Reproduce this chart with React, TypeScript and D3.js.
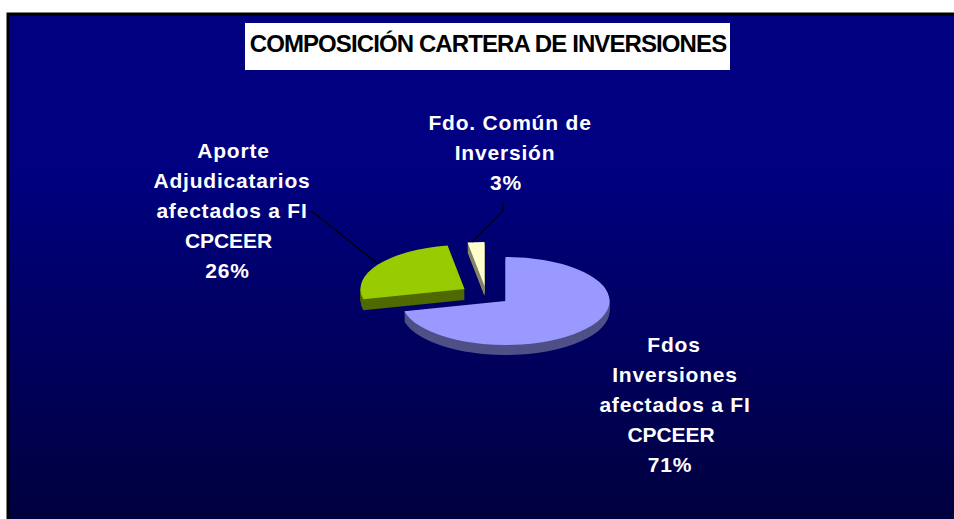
import React from "react";
import * as d3 from "d3";

const W = 954, H = 519;
const title = "COMPOSICIÓN CARTERA DE INVERSIONES";
const sliceNames = ["Fdos Inversiones", "Aporte Adjudicatarios", "Fdo. Común de Inversión"];
const sliceValues = [71.3, 26.1, 2.6];
const sliceColors = ["#9999ff", "#99cc00", "#ffffcc"];
const wallColors = ["#505088", "#4f6a00", "#84846a"];
const explodeX = [0, -41, -21];
const explodeY = [0, -12, -15];
const wallDepth = [10, 11, 10];
const labelLines = [
  ["Fdos", "Inversiones", "afectados a FI", "CPCEER", "71%"],
  ["Aporte", "Adjudicatarios", "afectados a FI", "CPCEER", "26%"],
  ["Fdo. Común de", "Inversión", "3%"],
];
const labelLineX = [
  [674, 675, 675, 671, 670],
  [233.5, 232, 232, 228.5, 227.5],
  [510, 505, 506],
];
const labelY = [352, 158, 130];
const leaders = [
  "",
  "M307,211L313,212L378,264",
  "M503,202L503,211L472,242",
];

const cx = 505.5, cy = 301, rx = 104, ry = 44;

export default function App() {
  const arcs = d3.pie<number>().sort(null)(sliceValues);
  const arc = d3.arc<d3.PieArcDatum<number>>().innerRadius(0).outerRadius(rx);
  const yScale = ry / rx;
  return (
    <svg width={W} height={H} style={{ position: "absolute", left: 0, top: 0, background: "#fff" }}>
      <defs>
        <linearGradient id="bg" x1="0" y1="0" x2="0" y2="1">
          <stop offset="0" stopColor="#000080" />
          <stop offset="0.3" stopColor="#000080" />
          <stop offset="1" stopColor="#00003c" />
        </linearGradient>
      </defs>
      <rect x={8} y={14} width={W} height={H} fill="url(#bg)" stroke="#000" strokeWidth={3} />
      <rect x={245} y={23} width={485} height={47} fill="#fff" />
      <text x={488} y={52} textAnchor="middle" fontFamily="'Liberation Sans'" fontWeight="bold" fontSize={24} letterSpacing={-0.9} fill="#000">{title}</text>
      {arcs.map((a, i) => (
        <g key={sliceNames[i]} transform={`translate(${cx + explodeX[i]},${cy + explodeY[i]})`}>
          {d3.range(wallDepth[i], 0, -1).map((d) => (
            <path key={d} d={arc(a) || ""} transform={`translate(0,${d}) scale(1,${yScale})`} fill={wallColors[i]} />
          ))}
          <path d={arc(a) || ""} transform={`scale(1,${yScale})`} fill={sliceColors[i]} />
        </g>
      ))}
      {leaders.map((d, i) => d && <path key={i} d={d} fill="none" stroke="#000" strokeWidth={1.2} />)}
      {labelLines.map((lines, i) => (
        <text key={i} textAnchor="middle" fontFamily="'Liberation Sans'" fontWeight="bold" fontSize={21} letterSpacing={0.8} fill="#fff">
          {lines.map((l, j) => (
            <tspan key={j} x={labelLineX[i][j]} y={labelY[i] + j * 30} letterSpacing={l === "CPCEER" ? -0.1 : undefined}>{l}</tspan>
          ))}
        </text>
      ))}
    </svg>
  );
}
